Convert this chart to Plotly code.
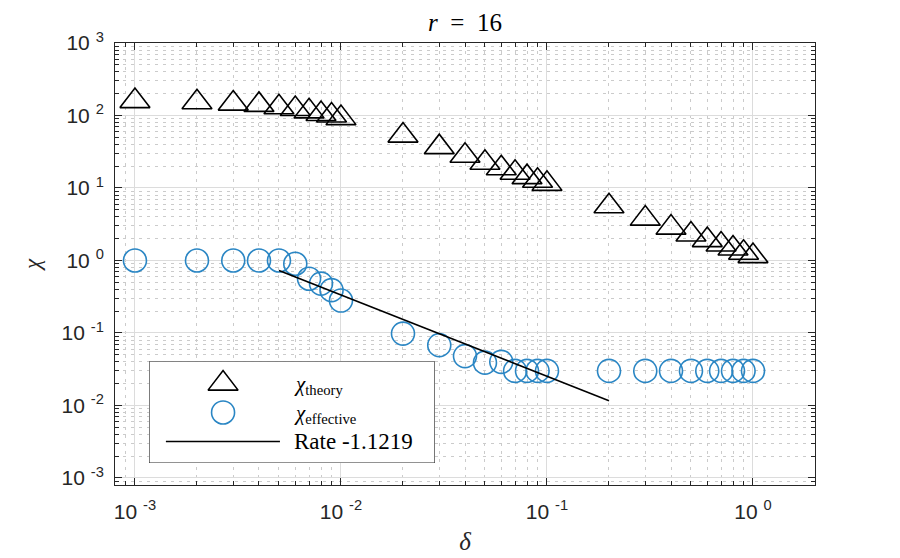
import math

import plotly.graph_objects as go

# data (r = 16)
delta = [0.001, 0.002, 0.003, 0.004, 0.005, 0.006, 0.007, 0.008, 0.009, 0.01,
         0.02, 0.03, 0.04, 0.05, 0.06, 0.07, 0.08, 0.09, 0.1,
         0.2, 0.3, 0.4, 0.5, 0.6, 0.7, 0.8, 0.9, 1.0]
chi_theory = [158, 152, 146, 140, 130, 123, 114, 105, 100, 92,
              52.8, 36.6, 27.9, 22.3, 18.7, 16.2, 14.1, 12.6, 11.4,
              5.6, 3.78, 2.84, 2.28, 1.91, 1.66, 1.46, 1.28, 1.15]
chi_effective = [1.0, 1.0, 1.0, 1.0, 1.0, 0.90, 0.56, 0.48, 0.39, 0.28,
                 0.098, 0.068, 0.048, 0.039, 0.040, 0.030, 0.030, 0.030, 0.030,
                 0.030, 0.030, 0.030, 0.030, 0.030, 0.030, 0.030, 0.030, 0.030]
rate_delta = [0.005, 0.2]
rate_chi = [0.73, 0.0116]
rate_label = 'Rate -1.1219'

x_ticks = [1e-3, 1e-2, 1e-1, 1e0]
x_ticktext = ['10 <sup>-3</sup>', '10 <sup>-2</sup>', '10 <sup>-1</sup>', '10 <sup>0</sup>']
y_ticks = [1e-3, 1e-2, 1e-1, 1e0, 1e1, 1e2, 1e3]
y_ticktext = ['10 <sup>-3</sup>', '10 <sup>-2</sup>', '10 <sup>-1</sup>', '10 <sup>0</sup>',
              '10 <sup>1</sup>', '10 <sup>2</sup>', '10 <sup>3</sup>']

BLUE = '#2a86c4'
DARK = '#262626'
SERIF = 'Liberation Serif'
SANS = 'Liberation Sans'


def minor_vals(lo, hi):
    return [m * 10 ** e for e in range(lo, hi) for m in range(2, 10)]


fig = go.Figure()

fig.add_trace(go.Scatter(
    x=delta, y=chi_theory, mode='markers', name='theory',
    marker=dict(symbol='triangle-up-open', size=26, color='black', line=dict(width=1.6)),
))
fig.add_trace(go.Scatter(
    x=delta, y=chi_effective, mode='markers', name='effective',
    marker=dict(symbol='circle-open', size=23, color=BLUE, line=dict(width=1.6)),
))
fig.add_trace(go.Scatter(
    x=rate_delta, y=rate_chi, mode='lines', name=rate_label,
    line=dict(color='black', width=1.6),
))

# hand-made legend box on a hidden overlay axis pair (0..1 in both directions)
legend_box = dict(x=[0, 1, 1, 0, 0], y=[0, 0, 1, 1, 0])
fig.add_trace(go.Scatter(
    x=legend_box['x'], y=legend_box['y'], xaxis='x2', yaxis='y2', mode='lines',
    fill='toself', fillcolor='white', line=dict(color=DARK, width=1.2),
    hoverinfo='skip',
))
fig.add_trace(go.Scatter(
    x=[0.259], y=[0.78], xaxis='x2', yaxis='y2', mode='markers',
    marker=dict(symbol='triangle-up-open', size=26, color='black', line=dict(width=1.6)),
))
fig.add_trace(go.Scatter(
    x=[0.259], y=[0.497], xaxis='x2', yaxis='y2', mode='markers',
    marker=dict(symbol='circle-open', size=23, color=BLUE, line=dict(width=1.6)),
))
fig.add_trace(go.Scatter(
    x=[0.059, 0.458], y=[0.212, 0.212], xaxis='x2', yaxis='y2', mode='lines',
    line=dict(color='black', width=1.6),
))

legend_text = [
    ('<i>χ</i><sub>theory</sub>', 0.765, 21),
    ('<i>χ</i><sub>effective</sub>', 0.478, 21),
    (rate_label, 0.21, 23),
]
for text, ypos, size in legend_text:
    fig.add_annotation(
        x=0.5, y=ypos, xref='x2', yref='y2', text=text, showarrow=False,
        xanchor='left', yanchor='middle', font=dict(family=SERIF, size=size, color='black'),
    )

axis_common = dict(
    type='log', showline=True, linecolor=DARK, linewidth=1, mirror='allticks',
    ticks='inside', ticklen=7, tickwidth=1, tickcolor=DARK,
    tickfont=dict(family=SANS, size=21, color=DARK),
    showgrid=True, gridcolor='#dcdcdc', gridwidth=1, zeroline=False, automargin=False,
)
minor_common = dict(
    tickmode='array', ticks='inside', ticklen=4, tickcolor=DARK,
    showgrid=True, gridcolor='#cbcbcb', griddash='3px,5px', gridwidth=1,
)

# the page body adds an 8px offset, so margins are shifted by that amount
fig.update_layout(
    width=900, height=558,
    margin=dict(l=107, r=93, t=35, b=81),
    paper_bgcolor='white', plot_bgcolor='white',
    showlegend=False,
    title=dict(text='<i>r</i>\u2002=\u200216', x=0.5, xref='paper', y=0.99, yref='container',
               xanchor='center', yanchor='top',
               font=dict(family=SERIF, size=25, color='black')),
    xaxis=dict(
        **axis_common,
        range=[math.log10(0.0008), math.log10(2)],
        tickmode='array', tickvals=x_ticks, ticktext=x_ticktext, ticklabelstandoff=8,
        minor=dict(**minor_common, tickvals=minor_vals(-4, 1)),
        title=dict(text='<i>δ</i>', font=dict(family=SERIF, size=25, color=DARK), standoff=10),
    ),
    yaxis=dict(
        **axis_common,
        range=[math.log10(0.0008), 3],
        tickmode='array', tickvals=y_ticks, ticktext=y_ticktext, ticklabelstandoff=6,
        minor=dict(**minor_common, tickvals=minor_vals(-4, 3)),
        title=dict(text='<i>χ</i>', font=dict(family=SERIF, size=23, color=DARK), standoff=14),
    ),
    xaxis2=dict(domain=[0.0486, 0.457], range=[0, 1], anchor='y2', visible=False, fixedrange=True),
    yaxis2=dict(domain=[0.0497, 0.280], range=[0, 1], anchor='x2', visible=False, fixedrange=True),
)

fig.write_html('out.html')
